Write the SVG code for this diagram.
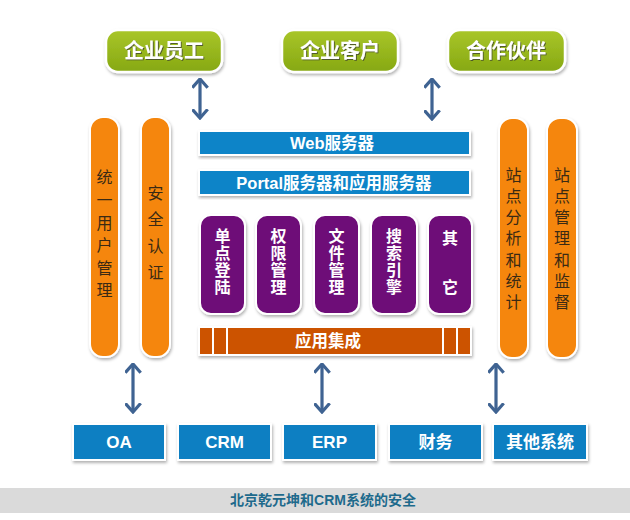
<svg xmlns="http://www.w3.org/2000/svg" width="630" height="520" viewBox="0 0 630 520">
<defs>
<linearGradient id="gGreen" x1="0" y1="0" x2="0" y2="1">
<stop offset="0" stop-color="#a9c62a"/><stop offset="1" stop-color="#86a812"/>
</linearGradient>
<filter id="sh" x="-20%" y="-20%" width="140%" height="140%">
<feDropShadow dx="1" dy="2" stdDeviation="1.5" flood-color="#000" flood-opacity="0.3"/>
</filter>
<filter id="tsh" x="-10%" y="-10%" width="120%" height="130%">
<feDropShadow dx="1" dy="1" stdDeviation="0.6" flood-color="#333" flood-opacity="0.7"/>
</filter>
<marker id="chev" viewBox="0 0 11 17" refX="9.5" refY="8.5" markerWidth="11" markerHeight="17" markerUnits="userSpaceOnUse" orient="auto-start-reverse">
<path d="M0.8,0.8 L9.5,8.5 L0.8,16.2" fill="none" stroke="#3f6392" stroke-width="3.2"/>
</marker>
</defs>
<style>
.green{fill:url(#gGreen);stroke:#fff;stroke-width:2.5;filter:url(#sh)}
.gtxt{font-family:"Noto Sans CJK SC","Liberation Sans",sans-serif;font-weight:bold;font-size:20px;fill:#fff;text-anchor:middle;filter:url(#tsh)}
.orange{fill:#f5860a;stroke:#fff;stroke-width:2;filter:url(#sh)}
.otxt{font-family:"Noto Sans CJK SC",sans-serif;font-size:16px;fill:#3a2a14;text-anchor:middle}
.blue{fill:#0b84c8;stroke:#fff;stroke-width:2;filter:url(#sh)}
.btxt{font-family:"Liberation Sans","Noto Sans CJK SC",sans-serif;font-weight:bold;font-size:16.5px;fill:#fff;text-anchor:middle}
.purple{fill:#6e0a78;stroke:#fff;stroke-width:2;filter:url(#sh)}
.ptxt{font-family:"Noto Sans CJK SC",sans-serif;font-weight:bold;font-size:16px;fill:#fff;text-anchor:middle}
.rust{fill:#cc5206;stroke:#fff;stroke-width:2;filter:url(#sh)}
.sep{stroke:#fff;stroke-width:2}
.sys{fill:#0b7fc2;stroke:#fff;stroke-width:2;filter:url(#sh)}
.stxt{font-family:"Liberation Sans","Noto Sans CJK SC",sans-serif;font-weight:bold;font-size:17px;fill:#fff;text-anchor:middle}
.arr{stroke:#3f6392;stroke-width:3.2;fill:none;marker-start:url(#chev);marker-end:url(#chev)}
.foot{font-family:"Liberation Sans","Noto Sans CJK SC",sans-serif;font-weight:bold;font-size:14px;fill:#1e6a8c;text-anchor:middle}
</style>
<rect width="630" height="520" fill="#fff"/>

<g id="n-employee"><rect class="green" x="106" y="30" width="116" height="42" rx="12"/><text class="gtxt" x="164" y="58">企业员工</text></g>
<g id="n-customer"><rect class="green" x="282" y="30" width="116" height="42" rx="12"/><text class="gtxt" x="340" y="58">企业客户</text></g>
<g id="n-partner"><rect class="green" x="448" y="30" width="117" height="42" rx="12"/><text class="gtxt" x="506" y="58">合作伙伴</text></g>

<g id="n-uum"><rect class="orange" x="90" y="117" width="29" height="240" rx="13"/>
<text class="otxt"><tspan x="104.5" y="183">统</tspan><tspan x="104.5" y="206">一</tspan><tspan x="104.5" y="229">用</tspan><tspan x="104.5" y="251">户</tspan><tspan x="104.5" y="274">管</tspan><tspan x="104.5" y="296">理</tspan></text></g>
<g id="n-auth"><rect class="orange" x="141" y="117" width="29" height="240" rx="13"/>
<text class="otxt"><tspan x="155.5" y="199">安</tspan><tspan x="155.5" y="225">全</tspan><tspan x="155.5" y="252">认</tspan><tspan x="155.5" y="278">证</tspan></text></g>
<g id="n-analytics"><rect class="orange" x="499" y="118" width="29" height="240" rx="13"/>
<text class="otxt"><tspan x="513.5" y="181">站</tspan><tspan x="513.5" y="202">点</tspan><tspan x="513.5" y="223">分</tspan><tspan x="513.5" y="244">析</tspan><tspan x="513.5" y="266">和</tspan><tspan x="513.5" y="287">统</tspan><tspan x="513.5" y="308">计</tspan></text></g>
<g id="n-sitemgmt"><rect class="orange" x="547" y="118" width="30" height="240" rx="13"/>
<text class="otxt"><tspan x="562" y="181">站</tspan><tspan x="562" y="202">点</tspan><tspan x="562" y="223">管</tspan><tspan x="562" y="244">理</tspan><tspan x="562" y="266">和</tspan><tspan x="562" y="287">监</tspan><tspan x="562" y="308">督</tspan></text></g>

<g id="n-web"><rect class="blue" x="199" y="131" width="271" height="24"/><text class="btxt" x="332" y="149">Web服务器</text></g>
<g id="n-portal"><rect class="blue" x="199" y="170" width="271" height="25"/><text class="btxt" x="334" y="188.5">Portal服务器和应用服务器</text></g>

<g id="n-sso"><rect class="purple" x="200" y="215" width="45" height="99" rx="11"/>
<text class="ptxt"><tspan x="222.5" y="242">单</tspan><tspan x="222.5" y="259">点</tspan><tspan x="222.5" y="276">登</tspan><tspan x="222.5" y="293">陆</tspan></text></g>
<g id="n-perm"><rect class="purple" x="256" y="215" width="45" height="99" rx="11"/>
<text class="ptxt"><tspan x="278.5" y="242">权</tspan><tspan x="278.5" y="259">限</tspan><tspan x="278.5" y="276">管</tspan><tspan x="278.5" y="293">理</tspan></text></g>
<g id="n-file"><rect class="purple" x="314" y="215" width="45" height="99" rx="11"/>
<text class="ptxt"><tspan x="336.5" y="242">文</tspan><tspan x="336.5" y="259">件</tspan><tspan x="336.5" y="276">管</tspan><tspan x="336.5" y="293">理</tspan></text></g>
<g id="n-search"><rect class="purple" x="371" y="215" width="46" height="99" rx="11"/>
<text class="ptxt"><tspan x="394" y="242">搜</tspan><tspan x="394" y="259">索</tspan><tspan x="394" y="276">引</tspan><tspan x="394" y="293">擎</tspan></text></g>
<g id="n-other"><rect class="purple" x="428" y="215" width="44" height="99" rx="11"/>
<text class="ptxt"><tspan x="450" y="244">其</tspan><tspan x="450" y="293">它</tspan></text></g>

<g id="n-integration"><rect class="rust" x="199" y="327" width="272" height="28"/>
<line class="sep" x1="213" y1="327" x2="213" y2="355"/><line class="sep" x1="227" y1="327" x2="227" y2="355"/>
<line class="sep" x1="443" y1="327" x2="443" y2="355"/><line class="sep" x1="457" y1="327" x2="457" y2="355"/>
<text class="btxt" x="328" y="347">应用集成</text></g>

<g id="n-oa"><rect class="sys" x="73" y="424" width="92" height="36"/><text class="stxt" x="119" y="448">OA</text></g>
<g id="n-crm"><rect class="sys" x="178" y="424" width="93" height="36"/><text class="stxt" x="224.5" y="448">CRM</text></g>
<g id="n-erp"><rect class="sys" x="283" y="424" width="93" height="36"/><text class="stxt" x="329.5" y="448">ERP</text></g>
<g id="n-finance"><rect class="sys" x="389" y="424" width="93" height="36"/><text class="stxt" x="435.5" y="448">财务</text></g>
<g id="n-othersys"><rect class="sys" x="493" y="424" width="94" height="36"/><text class="stxt" x="540" y="448">其他系统</text></g>

<g id="connectors">
<line class="arr" x1="200" y1="79" x2="200" y2="118"/>
<line class="arr" x1="432" y1="79" x2="432" y2="119"/>
<line class="arr" x1="133" y1="364" x2="133" y2="412"/>
<line class="arr" x1="322" y1="364" x2="322" y2="412"/>
<line class="arr" x1="496" y1="364" x2="496" y2="412"/>
</g>

<g id="footer"><rect x="0" y="488" width="630" height="25" fill="#dadada"/><text class="foot" x="323" y="505">北京乾元坤和CRM系统的安全</text></g>
</svg>
